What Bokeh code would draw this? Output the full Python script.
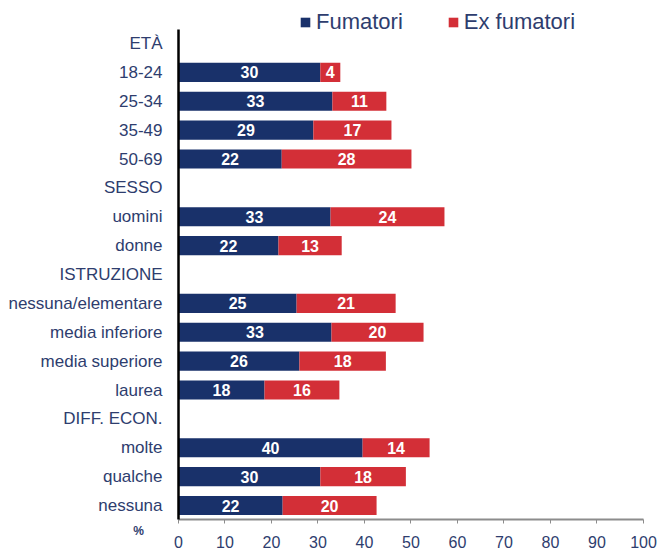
from bokeh.plotting import figure
from bokeh.models import (Range1d, ColumnDataSource, Label, Legend, LegendItem,
                          SingleIntervalTicker, FixedTicker, LinearAxis)
from bokeh.core.properties import value
from bokeh.embed import file_html
from bokeh.resources import INLINE

# ---- data ----
categories = ["ETÀ", "18-24", "25-34", "35-49", "50-69", "SESSO", "uomini", "donne",
              "ISTRUZIONE", "nessuna/elementare", "media inferiore", "media superiore", "laurea",
              "DIFF. ECON.", "molte", "qualche", "nessuna"]
rows = ["18-24", "25-34", "35-49", "50-69", "uomini", "donne",
        "nessuna/elementare", "media inferiore", "media superiore", "laurea",
        "molte", "qualche", "nessuna"]
fumatori = [30.5, 33.1, 29.0, 22.2, 32.7, 21.5, 25.4, 32.9, 26.0, 18.5, 39.6, 30.5, 22.4]
ex_fumatori = [4.3, 11.6, 16.8, 27.9, 24.5, 13.6, 21.3, 19.8, 18.6, 16.1, 14.4, 18.4, 20.2]
fumatori_labels = ["30", "33", "29", "22", "33", "22", "25", "33", "26", "18", "40", "30", "22"]
ex_labels = ["4", "11", "17", "28", "24", "13", "21", "20", "18", "16", "14", "18", "20"]
series_names = ["Fumatori", "Ex fumatori"]
unit_label = "%"

NAVY = "#19316A"
RED = "#D32F37"
TXT = "#2E3D6E"
FONT = "Liberation Sans"

W, H = 658, 550
# frame covers the whole canvas; axes are drawn at fixed data locations
p = figure(width=W, height=H, output_backend="svg", toolbar_location=None,
           x_range=Range1d(-38.28, 103.23), y_range=Range1d(17.558, -1.489),
           x_axis_location=None, y_axis_location=None,
           min_border_left=0, min_border_right=0, min_border_top=0, min_border_bottom=0)
p.outline_line_color = None
p.grid.grid_line_color = None
p.background_fill_color = "white"
p.border_fill_color = "white"

n_cat = len(categories)
ypos = [categories.index(r) for r in rows]
ends = [a + b for a, b in zip(fumatori, ex_fumatori)]
src = ColumnDataSource(dict(
    y=ypos, f=fumatori, e=ex_fumatori, end=ends,
    fmid=[a / 2 for a in fumatori],
    emid=[a + b / 2 for a, b in zip(fumatori, ex_fumatori)],
    fl=fumatori_labels, el=ex_labels))

r1 = p.hbar(y="y", left=0, right="f", height=0.66, source=src, fill_color=NAVY, line_color=None)
r2 = p.hbar(y="y", left="f", right="end", height=0.66, source=src, fill_color=RED, line_color=None)

p.text(x="fmid", y="y", text="fl", source=src, text_color="white", text_font=value(FONT),
       text_font_style="bold", text_font_size="16px", text_align="center", text_baseline="middle")
p.text(x="emid", y="y", text="el", source=src, text_color="white", text_font=value(FONT),
       text_font_style="bold", text_font_size="16px", text_align="center", text_baseline="middle")

# x axis
xa = LinearAxis(ticker=SingleIntervalTicker(interval=10, num_minor_ticks=0),
                fixed_location=n_cat - 0.5, bounds=(0, 100))
xa.axis_line_color = "#8C8C8C"
xa.axis_line_width = 2
xa.major_tick_line_color = "#8C8C8C"
xa.major_tick_out = 4
xa.major_tick_in = 0
xa.minor_tick_line_color = None
xa.major_label_text_color = TXT
xa.major_label_text_font = FONT
xa.major_label_text_font_size = "16px"
xa.major_label_standoff = 12
p.add_layout(xa, "below")

# y axis (category labels)
ya = LinearAxis(ticker=FixedTicker(ticks=list(range(n_cat))),
                major_label_overrides={i: c for i, c in enumerate(categories)},
                fixed_location=0, bounds=(-0.5, n_cat - 0.5))
ya.axis_line_color = "black"
ya.axis_line_width = 2.5
ya.major_tick_line_color = None
ya.minor_tick_line_color = None
ya.major_label_text_color = TXT
ya.major_label_text_font = FONT
ya.major_label_text_font_size = "17px"
ya.major_label_standoff = 10
p.add_layout(ya, "left")

p.add_layout(Label(x=-8.6, y=n_cat - 0.13, text=unit_label, text_color=TXT, text_font=FONT,
                   text_font_style="bold", text_font_size="12px",
                   text_align="center", text_baseline="middle"))

legend = Legend(items=[LegendItem(label=series_names[0], renderers=[r1]),
                       LegendItem(label=series_names[1], renderers=[r2])],
                orientation="horizontal", location=(299, 515),
                glyph_width=12, glyph_height=12, label_standoff=5, spacing=44,
                padding=0, margin=0, border_line_color=None, background_fill_alpha=0,
                label_text_font=FONT, label_text_font_size="22px", label_text_color=TXT)
p.add_layout(legend, "center")

open("out.html", "w").write(file_html(p, INLINE))
